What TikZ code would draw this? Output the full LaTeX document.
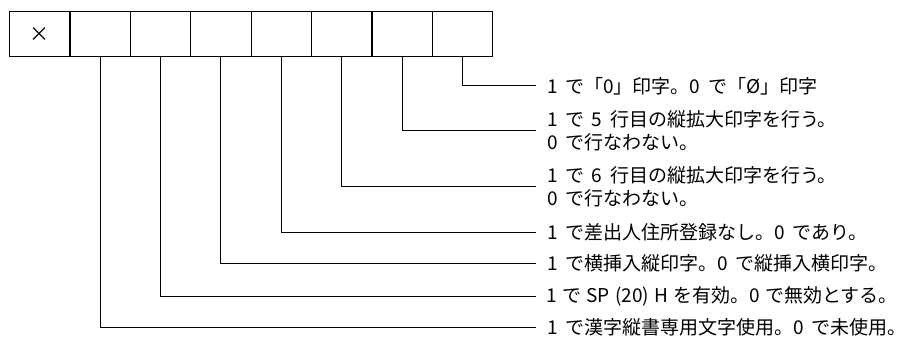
\documentclass[tikz,border=0pt]{standalone}
\usepackage{fontspec}
\setmainfont{Noto Sans CJK JP}
\newcommand{\descfont}{\fontsize{19pt}{23pt}\selectfont\spaceskip=0.4em plus 0pt minus 0pt\relax}
\newcommand{\tightsp}{\spaceskip=0.28em plus 0pt minus 0pt\relax}
\begin{document}
\begin{tikzpicture}[x=1pt,y=-1pt,
  bitbox/.style={draw, line width=1.3pt, minimum width=60.4pt, minimum height=45pt, inner sep=0pt, anchor=north west},
  desc/.style={anchor=west, inner xsep=11pt, inner ysep=0pt, align=left, font=\descfont},
  lead/.style={line width=1pt}]
\useasboundingbox (0,0) rectangle (912,339);
\foreach \i in {1,...,8} {
  \node[bitbox] (b\i) at ({9+60.375*(\i-1)},11) {};
}
\node[font=\fontsize{20pt}{20pt}\selectfont] (x) at (b1.center) {×};
\node[desc] (t1) at (536,86) {1 で「0」印字。0 で「Ø」印字};
\node[desc] (t2) at (536,131) {1 で 5 行目の縦拡大印字を行う。\\0 で行なわない。};
\node[desc] (t3) at (536,187) {1 で 6 行目の縦拡大印字を行う。\\0 で行なわない。};
\node[desc] (t4) at (536,232) {1 で差出人住所登録なし。0 であり。};
\node[desc] (t5) at (536,263) {1 で横挿入縦印字。0 で縦挿入横印字。};
\node[desc, inner xsep=10pt] (t6) at (536,296) {\tightsp 1 で SP (20) H を有効。0 で無効とする。};
\node[desc] (t7) at (536,327) {1 で漢字縦書専用文字使用。0 で未使用。};
\draw[lead] (b8.south) |- (t1.west);
\draw[lead] (b7.south) |- (t2.west);
\draw[lead] (b6.south) |- (t3.west);
\draw[lead] (b5.south) |- (t4.west);
\draw[lead] (b4.south) |- (t5.west);
\draw[lead] (b3.south) |- (t6.west);
\draw[lead] (b2.south) |- (t7.west);
\end{tikzpicture}
\end{document}
